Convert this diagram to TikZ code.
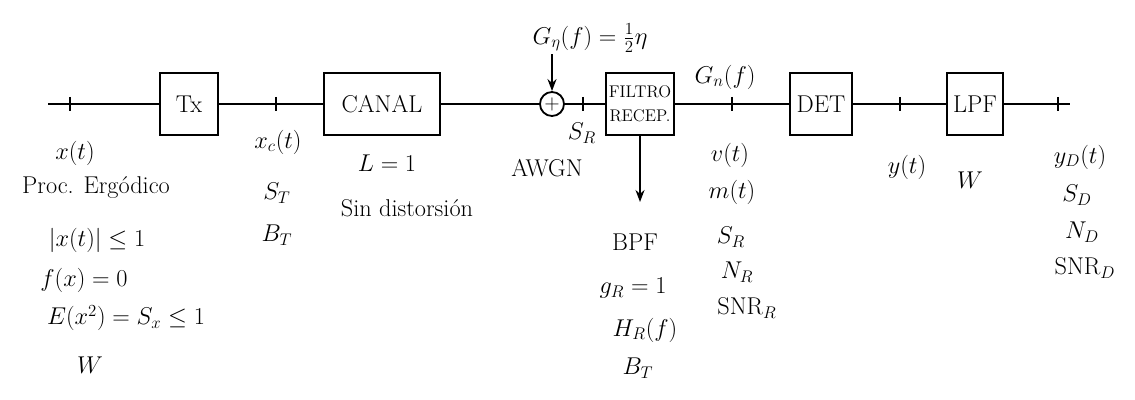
\documentclass[tikz,border=0pt]{standalone}
\usepackage{tikz}
\usetikzlibrary{arrows.meta, positioning, calc}
\tikzstyle{blockbox} = [
  rectangle, draw, line width=1.3pt,
  minimum height=1.55cm, font=\LARGE, inner sep=2pt
]
\tikzstyle{sumnode} = [circle, draw, line width=1.3pt, minimum size=0.6cm, inner sep=0pt, font=\Large]
\tikzstyle{lbl} = [font=\LARGE, inner sep=1pt]
\tikzstyle{wire} = [line width=1.3pt]
\tikzstyle{arrow} = [-{Stealth[length=3mm]}, line width=1.3pt]

\begin{document}
\begin{tikzpicture}[x=0.025cm, y=-0.025cm]
  \useasboundingbox (0,0) rectangle (1135,400);

  \coordinate (in) at (48,104);
  \node[blockbox, minimum width=1.45cm] (tx) at (189,104) {Tx};
  \node[blockbox, minimum width=2.9cm] (canal) at (382,104) {CANAL};
  \node[sumnode] (sum) at (552,104) {$+$};
  \node[blockbox, minimum width=1.7cm, font=\large, align=center] (filtro) at (640,104) {FILTRO\\[3pt]RECEP.};
  \node[blockbox, minimum width=1.55cm] (det) at (821,104) {DET};
  \node[blockbox, minimum width=1.4cm] (lpf) at (975,104) {LPF};
  \coordinate (out) at (1070,104);

  \draw[wire] (in) -- (tx) -- (canal) -- (sum) -- (filtro) -- (det) -- (lpf) -- (out);
  \foreach \x in {70, 276, 583, 732, 900, 1058}
    \draw[wire] (\x,97) -- (\x,111);

  % ruido
  \node[lbl] (psd) at (590,38) {$G_\eta(f) = \frac{1}{2}\eta$};
  \draw[arrow] (psd.south -| sum.north) -- (sum.north);
  \coordinate (fout) at (640,202);
  \draw[arrow] (filtro.south) -- (fout);

  % entrada
  \node[lbl] (xt) at (75,153) {$x(t)$};
  \node[lbl] (proc) at (96,188) {Proc. Erg\'odico};
  \node[lbl] (bound) at (97,240) {$|x(t)| \le 1$};
  \node[lbl] (fx) at (84,280) {$f(x) = 0$};
  \node[lbl] (ex) at (126,318) {$E(x^2) = S_x \le 1$};
  \node[lbl] (win) at (90,365) {$W$};

  % transmisor y canal
  \node[lbl] (xct) at (278,142) {$x_c(t)$};
  \node[lbl] (st) at (277,193) {$S_T$};
  \node[lbl] (bt) at (277,235) {$B_T$};
  \node[lbl] (loss) at (387,163) {$L = 1$};
  \node[lbl] (nodist) at (407,208) {Sin distorsi\'on};
  \node[lbl] (awgn) at (547,168) {AWGN};
  \node[lbl] (sr) at (582,133) {$S_R$};

  % receptor
  \node[lbl] (bpf) at (635,242) {BPF};
  \node[lbl] (gr) at (633,288) {$g_R = 1$};
  \node[lbl] (hr) at (645,330) {$H_R(f)$};
  \node[lbl] (btr) at (638,368) {$B_T$};
  \node[lbl] (gnf) at (725,77) {$G_n(f)$};
  \node[lbl] (vt) at (730,155) {$v(t)$};
  \node[lbl] (mt) at (732,192) {$m(t)$};
  \node[lbl] (srr) at (731,237) {$S_R$};
  \node[lbl] (nr) at (737,272) {$N_R$};
  \node[lbl] (snrr) at (747,308) {$\mathrm{SNR}_R$};

  % salida
  \node[lbl] (yt) at (907,167) {$y(t)$};
  \node[lbl] (wl) at (970,180) {$W$};
  \node[lbl] (ydt) at (1080,157) {$y_D(t)$};
  \node[lbl] (sd) at (1077,195) {$S_D$};
  \node[lbl] (nd) at (1082,232) {$N_D$};
  \node[lbl] (snrd) at (1085,268) {$\mathrm{SNR}_D$};

\end{tikzpicture}
\end{document}
